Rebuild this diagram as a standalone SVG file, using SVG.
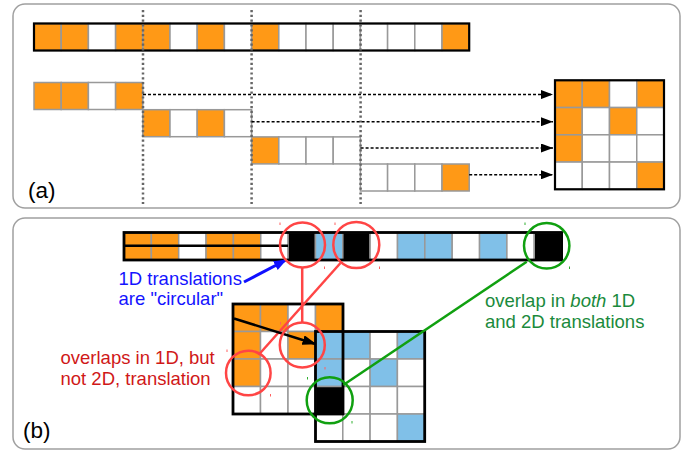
<svg xmlns="http://www.w3.org/2000/svg" width="696" height="454" viewBox="0 0 696 454">
<style>
.panel{fill:#fff;stroke:#a0a0a0;stroke-width:1.5}
.o{fill:#ff9916;stroke:#999;stroke-width:1.5}
.w{fill:#fff;stroke:#999;stroke-width:1.5}
.b{fill:#80c0e8;stroke:#999;stroke-width:1.5}
.k{fill:#000;stroke:#999;stroke-width:1.5}
.out{fill:none;stroke:#000;stroke-width:2.2}
.out2{fill:none;stroke:#000;stroke-width:2.8}
.vdot{stroke:#666;stroke-width:2.5;stroke-dasharray:2.2 2.6;fill:none}
.dash{stroke:#000;stroke-width:1.5;stroke-dasharray:3 2;fill:none}
.rc{fill:none;stroke:#ff4545;stroke-width:2.5}
.gc{fill:none;stroke:#10a010;stroke-width:2.5}
.t{font-family:"Liberation Sans",Arial,sans-serif;font-size:18.5px}
.lab{font-family:"Liberation Sans",Arial,sans-serif;font-size:22.5px;fill:#000}
.rm{fill:#ff6060}
.gm{fill:#30b030}
</style>
<defs>
<marker id="ah" markerWidth="12" markerHeight="9" refX="12" refY="4.5" orient="auto" markerUnits="userSpaceOnUse">
<path d="M0,0 L12,4.5 L0,9 Z" fill="#000"/>
</marker>
<marker id="ahb" markerWidth="13" markerHeight="10" refX="12" refY="5" orient="auto" markerUnits="userSpaceOnUse">
<path d="M0,0 L13,5 L0,10 Z" fill="#1010ff"/>
</marker>
<marker id="ahk" markerWidth="14" markerHeight="10" refX="13" refY="5" orient="auto" markerUnits="userSpaceOnUse">
<path d="M0,0 L14,5 L0,10 Z" fill="#000"/>
</marker>
</defs>

<g id="panel-a">
<rect class="panel" x="13" y="4" width="667" height="204" rx="12"/>
<text class="lab" x="28" y="197.5">(a)</text>
</g>
<g id="panel-b">
<rect class="panel" x="13" y="218" width="667" height="231" rx="12"/>
<text class="lab" x="23" y="437.5">(b)</text>
</g>

<g id="strip-a">
<rect class="o" x="34" y="23.5" width="27.2" height="27"/>
<rect class="o" x="61.2" y="23.5" width="27.2" height="27"/>
<rect class="w" x="88.4" y="23.5" width="27.2" height="27"/>
<rect class="o" x="115.6" y="23.5" width="27.2" height="27"/>
<rect class="o" x="142.8" y="23.5" width="27.2" height="27"/>
<rect class="w" x="170" y="23.5" width="27.2" height="27"/>
<rect class="o" x="197.2" y="23.5" width="27.2" height="27"/>
<rect class="w" x="224.4" y="23.5" width="27.2" height="27"/>
<rect class="o" x="251.6" y="23.5" width="27.2" height="27"/>
<rect class="w" x="278.8" y="23.5" width="27.2" height="27"/>
<rect class="w" x="306" y="23.5" width="27.2" height="27"/>
<rect class="w" x="333.2" y="23.5" width="27.2" height="27"/>
<rect class="w" x="360.4" y="23.5" width="27.2" height="27"/>
<rect class="w" x="387.6" y="23.5" width="27.2" height="27"/>
<rect class="w" x="414.8" y="23.5" width="27.2" height="27"/>
<rect class="o" x="442" y="23.5" width="27.2" height="27"/>
<rect class="out" x="34" y="23.5" width="435.2" height="27"/>
</g>

<g id="row1">
<rect class="o" x="34" y="82.5" width="27.2" height="27"/>
<rect class="o" x="61.2" y="82.5" width="27.2" height="27"/>
<rect class="w" x="88.4" y="82.5" width="27.2" height="27"/>
<rect class="o" x="115.6" y="82.5" width="27.2" height="27"/>
</g>
<g id="row2">
<rect class="o" x="142.8" y="109.7" width="27.2" height="27"/>
<rect class="w" x="170" y="109.7" width="27.2" height="27"/>
<rect class="o" x="197.2" y="109.7" width="27.2" height="27"/>
<rect class="w" x="224.4" y="109.7" width="27.2" height="27"/>
</g>
<g id="row3">
<rect class="o" x="251.6" y="136.9" width="27.2" height="27"/>
<rect class="w" x="278.8" y="136.9" width="27.2" height="27"/>
<rect class="w" x="306" y="136.9" width="27.2" height="27"/>
<rect class="w" x="333.2" y="136.9" width="27.2" height="27"/>
</g>
<g id="row4">
<rect class="w" x="360.4" y="164" width="27.2" height="27"/>
<rect class="w" x="387.6" y="164" width="27.2" height="27"/>
<rect class="w" x="414.8" y="164" width="27.2" height="27"/>
<rect class="o" x="442" y="164" width="27.2" height="27"/>
</g>

<g id="grid-a">
<rect class="o" x="555" y="80.3" width="27.25" height="27.25"/>
<rect class="o" x="582.25" y="80.3" width="27.25" height="27.25"/>
<rect class="w" x="609.5" y="80.3" width="27.25" height="27.25"/>
<rect class="o" x="636.75" y="80.3" width="27.25" height="27.25"/>
<rect class="o" x="555" y="107.55" width="27.25" height="27.25"/>
<rect class="w" x="582.25" y="107.55" width="27.25" height="27.25"/>
<rect class="o" x="609.5" y="107.55" width="27.25" height="27.25"/>
<rect class="w" x="636.75" y="107.55" width="27.25" height="27.25"/>
<rect class="o" x="555" y="134.8" width="27.25" height="27.25"/>
<rect class="w" x="582.25" y="134.8" width="27.25" height="27.25"/>
<rect class="w" x="609.5" y="134.8" width="27.25" height="27.25"/>
<rect class="w" x="636.75" y="134.8" width="27.25" height="27.25"/>
<rect class="w" x="555" y="162.05" width="27.25" height="27.25"/>
<rect class="w" x="582.25" y="162.05" width="27.25" height="27.25"/>
<rect class="w" x="609.5" y="162.05" width="27.25" height="27.25"/>
<rect class="o" x="636.75" y="162.05" width="27.25" height="27.25"/>
<rect class="out" x="555" y="80.3" width="109" height="109"/>
</g>

<g id="connectors-a">
<line class="vdot" x1="143" y1="10" x2="143" y2="204"/>
<line class="vdot" x1="251.6" y1="10" x2="251.6" y2="204"/>
<line class="vdot" x1="360.6" y1="10" x2="360.6" y2="204"/>
<line class="dash" x1="143" y1="94.6" x2="553" y2="94.6" marker-end="url(#ah)"/>
<line class="dash" x1="251.6" y1="121.7" x2="553" y2="121.7" marker-end="url(#ah)"/>
<line class="dash" x1="360.6" y1="148" x2="553" y2="148" marker-end="url(#ah)"/>
<line class="dash" x1="469.2" y1="174.8" x2="553" y2="174.8" marker-end="url(#ah)"/>
</g>

<g id="strip-b">
<rect class="o" x="124" y="232.5" width="27.35" height="13.2"/>
<rect class="o" x="124" y="245.7" width="27.35" height="14.3"/>
<rect class="o" x="151.35" y="232.5" width="27.35" height="13.2"/>
<rect class="o" x="151.35" y="245.7" width="27.35" height="14.3"/>
<rect class="w" x="178.7" y="232.5" width="27.35" height="27.5"/>
<rect class="o" x="206.05" y="232.5" width="27.35" height="13.2"/>
<rect class="o" x="206.05" y="245.7" width="27.35" height="14.3"/>
<rect class="o" x="233.4" y="232.5" width="27.35" height="13.2"/>
<rect class="o" x="233.4" y="245.7" width="27.35" height="14.3"/>
<rect class="w" x="260.75" y="232.5" width="27.35" height="27.5"/>
<rect class="k" x="288.1" y="232.5" width="27.35" height="27.5"/>
<rect class="b" x="315.45" y="232.5" width="27.35" height="27.5"/>
<rect class="k" x="342.8" y="232.5" width="27.35" height="27.5"/>
<rect class="w" x="370.15" y="232.5" width="27.35" height="27.5"/>
<rect class="b" x="397.5" y="232.5" width="27.35" height="27.5"/>
<rect class="b" x="424.85" y="232.5" width="27.35" height="27.5"/>
<rect class="w" x="452.2" y="232.5" width="27.35" height="27.5"/>
<rect class="b" x="479.55" y="232.5" width="27.35" height="27.5"/>
<rect class="w" x="506.9" y="232.5" width="27.35" height="27.5"/>
<rect class="k" x="534.25" y="232.5" width="27.35" height="27.5"/>
<line x1="124" y1="245.7" x2="288.1" y2="245.7" stroke="#000" stroke-width="2.5"/>
<rect class="out2" x="124" y="232.5" width="437.6" height="27.5"/>
</g>

<g id="grid-orange">
<rect class="o" x="233" y="304" width="27.5" height="27.5"/>
<rect class="o" x="260.5" y="304" width="27.5" height="27.5"/>
<rect class="w" x="288" y="304" width="27.5" height="27.5"/>
<rect class="o" x="315.5" y="304" width="27.5" height="27.5"/>
<rect class="o" x="233" y="331.5" width="27.5" height="27.5"/>
<rect class="w" x="260.5" y="331.5" width="27.5" height="27.5"/>
<rect class="o" x="288" y="331.5" width="27.5" height="27.5"/>
<rect class="o" x="233" y="359" width="27.5" height="27.5"/>
<rect class="w" x="260.5" y="359" width="27.5" height="27.5"/>
<rect class="w" x="288" y="359" width="27.5" height="27.5"/>
<rect class="w" x="233" y="386.5" width="27.5" height="27.5"/>
<rect class="w" x="260.5" y="386.5" width="27.5" height="27.5"/>
<rect class="w" x="288" y="386.5" width="27.5" height="27.5"/>
</g>

<g id="grid-blue">
<rect class="b" x="315.5" y="331.5" width="27.3" height="27.5"/>
<rect class="b" x="342.8" y="331.5" width="27.3" height="27.5"/>
<rect class="w" x="370.1" y="331.5" width="27.3" height="27.5"/>
<rect class="b" x="397.4" y="331.5" width="27.3" height="27.5"/>
<rect class="b" x="315.5" y="359" width="27.3" height="27.5"/>
<rect class="w" x="342.8" y="359" width="27.3" height="27.5"/>
<rect class="b" x="370.1" y="359" width="27.3" height="27.5"/>
<rect class="w" x="397.4" y="359" width="27.3" height="27.5"/>
<rect class="k" x="315.5" y="386.5" width="27.3" height="27.5"/>
<rect class="w" x="342.8" y="386.5" width="27.3" height="27.5"/>
<rect class="w" x="370.1" y="386.5" width="27.3" height="27.5"/>
<rect class="w" x="397.4" y="386.5" width="27.3" height="27.5"/>
<rect class="w" x="315.5" y="414" width="27.3" height="27.5"/>
<rect class="w" x="342.8" y="414" width="27.3" height="27.5"/>
<rect class="w" x="370.1" y="414" width="27.3" height="27.5"/>
<rect class="b" x="397.4" y="414" width="27.3" height="27.5"/>
<rect class="out2" x="315.5" y="331.5" width="109.2" height="110"/>
<rect class="out2" x="233" y="304" width="110" height="110"/>
</g>

<g id="connectors-b">
<line x1="302.2" y1="267.5" x2="302.2" y2="322.5" stroke="#ff4545" stroke-width="2.5"/>
<line x1="340.5" y1="263" x2="258.5" y2="355" stroke="#ff4545" stroke-width="2.5"/>
<line x1="526.7" y1="261.7" x2="343.3" y2="385" stroke="#10a010" stroke-width="2.5"/>
<line x1="234" y1="318.5" x2="315.5" y2="344" stroke="#000" stroke-width="2.5" marker-end="url(#ahk)"/>
<line x1="244" y1="282" x2="286" y2="260" stroke="#1010ff" stroke-width="3" marker-end="url(#ahb)"/>
</g>

<g id="circles">
<circle class="rc" cx="302.5" cy="245" r="22.5"/>
<circle class="rc" cx="356.3" cy="245" r="23"/>
<circle class="rc" cx="302.3" cy="345" r="22.5"/>
<circle class="rc" cx="248.3" cy="373" r="22.3"/>
<circle class="gc" cx="546.7" cy="245.8" r="22.7"/>
<circle class="gc" cx="329.7" cy="400.3" r="23"/>
</g>

<g id="marks">
<rect class="rm" x="279.5" y="222.5" width="1" height="2.5"/>
<rect class="rm" x="334.5" y="222.5" width="1" height="2.5"/>
<rect class="rm" x="324" y="266.5" width="1" height="2.5"/>
<rect class="rm" x="379" y="266.5" width="1" height="2.5"/>
<rect class="rm" x="280" y="322" width="1" height="2.5"/>
<rect class="rm" x="270" y="394" width="1" height="2.5"/>
<rect class="rm" x="324.5" y="367" width="1" height="2.5"/>
<rect class="rm" x="226.5" y="349.5" width="1" height="2.5"/>
<rect class="gm" x="524.5" y="222.5" width="1" height="2.5"/>
<rect class="gm" x="569" y="266.5" width="1" height="2.5"/>
<rect class="gm" x="307" y="377" width="1" height="2.5"/>
<rect class="gm" x="351.5" y="421" width="1" height="2.5"/>
</g>

<g id="labels">
<text class="t" x="118.5" y="284.5" fill="#1414ff">1D translations</text>
<text class="t" x="118.5" y="305" fill="#1414ff">are "circular"</text>
<text class="t" x="60.5" y="364" fill="#d01818">overlaps in 1D, but</text>
<text class="t" x="60.5" y="384.5" fill="#d01818">not 2D, translation</text>
<text class="t" x="485" y="306.7" fill="#1a8a3c">overlap in <tspan font-style="italic">both</tspan> 1D</text>
<text class="t" x="485" y="328.3" fill="#1a8a3c">and 2D translations</text>
</g>
</svg>
